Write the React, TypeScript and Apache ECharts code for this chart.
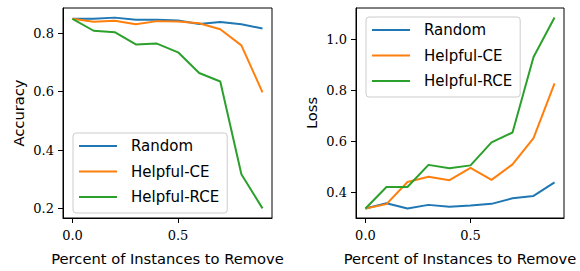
import React, { useEffect, useRef } from "react";
import * as echarts from "echarts";

const fractions = [0, 0.1, 0.2, 0.3, 0.4, 0.5, 0.6, 0.7, 0.8, 0.9];
const seriesNames = ["Random", "Helpful-CE", "Helpful-RCE"];
const colors = ["#1f77b4", "#ff7f0e", "#2ca02c"];

const accRandom = [0.85, 0.85, 0.854, 0.847, 0.847, 0.844, 0.832, 0.839, 0.831, 0.817];
const accHelpfulCE = [0.85, 0.84, 0.843, 0.831, 0.842, 0.841, 0.835, 0.814, 0.759, 0.598];
const accHelpfulRCE = [0.85, 0.809, 0.804, 0.762, 0.765, 0.735, 0.664, 0.635, 0.317, 0.2];

const lossRandom = [0.336, 0.356, 0.336, 0.35, 0.343, 0.348, 0.354, 0.376, 0.385, 0.438];
const lossHelpfulCE = [0.336, 0.353, 0.44, 0.46, 0.447, 0.495, 0.448, 0.509, 0.612, 0.827];
const lossHelpfulRCE = [0.336, 0.42, 0.42, 0.507, 0.494, 0.505, 0.595, 0.634, 0.93, 1.085];

const xTicks = [0, 0.5];
const accTicks = [0.2, 0.4, 0.6, 0.8];
const lossTicks = [0.4, 0.6, 0.8, 1.0];

const tickFont = "'DejaVu Serif', 'Liberation Serif', serif";
const labelFont = "'DejaVu Sans', sans-serif";

function pairs(vals: number[]) {
  return vals.map((v, i) => [fractions[i], v]);
}

export default function App() {
  const ref = useRef<HTMLDivElement>(null);
  useEffect(() => {
    if (!ref.current) return;
    const chart = echarts.init(ref.current, null, { renderer: "svg" });
    const xAxisBase = (gridIndex: number) => ({
      type: "value",
      gridIndex,
      min: -0.045,
      max: 0.945,
      name: "Percent of Instances to Remove",
      nameLocation: "middle",
      nameGap: 33,
      nameTextStyle: { fontFamily: labelFont, fontSize: 14.7, color: "#000" },
      axisLine: { show: true, onZero: false, lineStyle: { color: "#000", width: 1 } },
      axisTick: { show: true, length: 5, customValues: xTicks, lineStyle: { color: "#000" } },
      axisLabel: {
        customValues: xTicks,
        margin: 11,
        fontFamily: tickFont,
        fontSize: 13,
        color: "#000",
        formatter: (v: number) => v.toFixed(1),
      },
      splitLine: { show: false },
    });
    const yAxisBase = (gridIndex: number, min: number, max: number, ticks: number[], name: string) => ({
      type: "value",
      gridIndex,
      min,
      max,
      name,
      nameLocation: "middle",
      nameGap: 37,
      nameTextStyle: { fontFamily: labelFont, fontSize: 14.7, color: "#000" },
      axisLine: { show: true, onZero: false, lineStyle: { color: "#000", width: 1 } },
      axisTick: { show: true, length: 5, customValues: ticks, lineStyle: { color: "#000" } },
      axisLabel: {
        customValues: ticks,
        margin: 9,
        fontFamily: tickFont,
        fontSize: 13,
        color: "#000",
        formatter: (v: number) => v.toFixed(1),
      },
      splitLine: { show: false },
    });
    const accData = [accRandom, accHelpfulCE, accHelpfulRCE];
    const lossData = [lossRandom, lossHelpfulCE, lossHelpfulRCE];
    const series: any[] = [];
    accData.forEach((d, i) =>
      series.push({
        type: "line",
        name: seriesNames[i],
        xAxisIndex: 0,
        yAxisIndex: 0,
        data: pairs(d),
        symbol: "none",
        lineStyle: { color: colors[i], width: 2 },
        itemStyle: { color: colors[i] },
      })
    );
    lossData.forEach((d, i) =>
      series.push({
        type: "line",
        name: seriesNames[i],
        xAxisIndex: 1,
        yAxisIndex: 1,
        data: pairs(d),
        symbol: "none",
        lineStyle: { color: colors[i], width: 2 },
        itemStyle: { color: colors[i] },
      })
    );
    const legendBase = (left: number, top: number) => ({
      data: seriesNames,
      left,
      top,
      orient: "vertical",
      icon: "rect",
      itemWidth: 38,
      itemHeight: 2,
      itemGap: 9.5,
      padding: [5, 8, 8, 6],
      backgroundColor: "rgba(255,255,255,0.8)",
      borderColor: "#cccccc",
      borderWidth: 1,
      borderRadius: 3,
      selectedMode: false,
      textStyle: { fontFamily: labelFont, fontSize: 15, lineHeight: 16, color: "#000", padding: [0, 0, 0, 9] },
    });
    chart.setOption({
      animation: false,
      grid: [
        { left: 63, top: 8, width: 209, height: 214, show: true, borderColor: "#000", borderWidth: 1, backgroundColor: "transparent" },
        { left: 356, top: 8, width: 208, height: 214, show: true, borderColor: "#000", borderWidth: 1, backgroundColor: "transparent" },
      ],
      xAxis: [xAxisBase(0), xAxisBase(1)],
      yAxis: [
        yAxisBase(0, 0.167, 0.887, accTicks, "Accuracy"),
        yAxisBase(1, 0.2985, 1.1225, lossTicks, "Loss"),
      ],
      legend: [legendBase(73, 133), legendBase(366, 17)],
      series,
    });
    return () => chart.dispose();
  }, []);
  return (
    <div
      ref={ref}
      style={{ position: "absolute", left: 0, top: 0, width: 580, height: 271, background: "#fff" }}
    />
  );
}
